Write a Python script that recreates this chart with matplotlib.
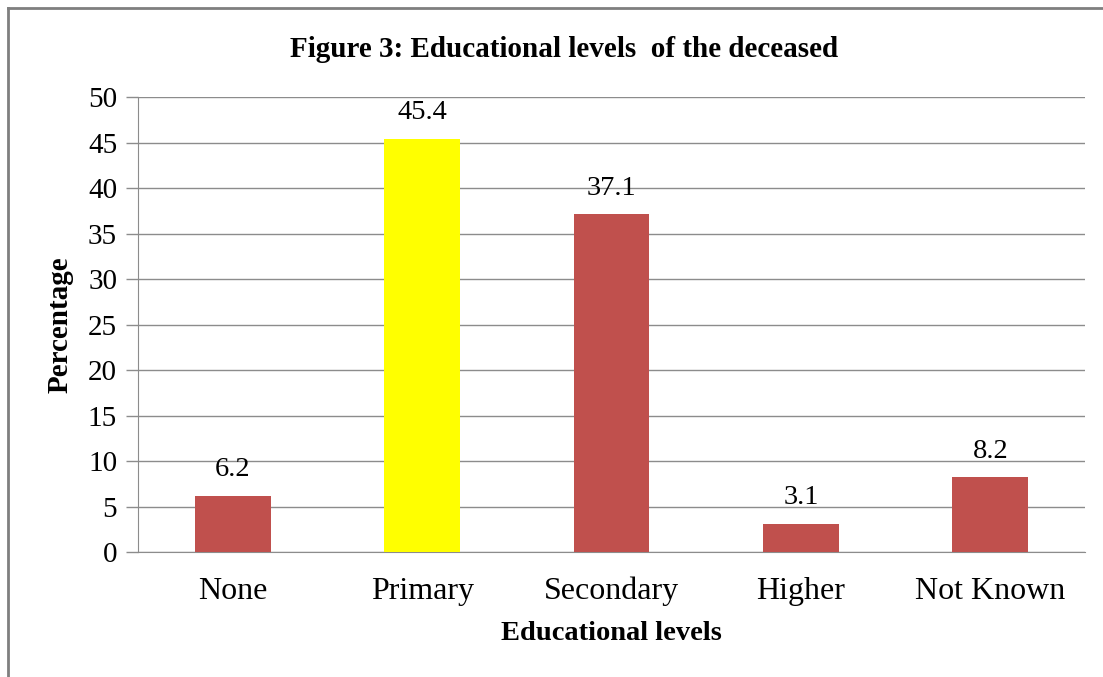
import matplotlib.pyplot as plt
from matplotlib.lines import Line2D

plt.rcParams['font.family'] = ['Liberation Serif', 'DejaVu Serif']

categories = ["None", "Primary", "Secondary", "Higher", "Not Known"]
values = [6.2, 45.4, 37.1, 3.1, 8.2]
colors = ["#C0504D", "#FFFF00", "#C0504D", "#C0504D", "#C0504D"]
yticks = [0, 5, 10, 15, 20, 25, 30, 35, 40, 45, 50]

fig = plt.figure(figsize=(11.03, 6.77), dpi=100)
ax = fig.add_axes([0.1251, 0.1846, 0.8586, 0.6721])

x = range(len(categories))
bars = ax.bar(x, values, width=0.4, color=colors, zorder=3)

for b, v in zip(bars, values):
    ax.text(b.get_x() + b.get_width() / 2, v + 1.5, f"{v}",
            ha="center", va="bottom", fontsize=20.5)

ax.set_xlim(-0.5, len(categories) - 0.5)
ax.set_ylim(0, 50)
ax.set_yticks(yticks)
ax.set_xticks(list(x))
ax.set_xticklabels(categories, fontsize=23, va="baseline")
ax.tick_params(axis="y", labelsize=21, length=9, color="#8c8c8c", width=1, pad=6)
ax.tick_params(axis="x", length=0, pad=34)
ax.grid(axis="y", color="#8c8c8c", linewidth=1, zorder=0)

for s in ["top", "right"]:
    ax.spines[s].set_visible(False)
ax.spines["left"].set_color("#8c8c8c")
ax.spines["bottom"].set_color("#8c8c8c")

ax.set_xlabel("Educational levels", fontsize=20.5, fontweight="bold", va="center")
ax.xaxis.set_label_coords(0.5, -0.178)
ax.set_ylabel("Percentage", fontsize=21, fontweight="bold", labelpad=10)
fig.text(0.511, 0.927, "Figure 3: Educational levels  of the deceased",
         ha="center", va="center", fontsize=21, fontweight="bold")

# chart border (only left and top edges visible in the original)
fig.add_artist(Line2D([0.0075, 0.0075], [0, 0.988], color="#7f7f7f", lw=2, transform=fig.transFigure))
fig.add_artist(Line2D([0.0075, 1.0], [0.988, 0.988], color="#7f7f7f", lw=2, transform=fig.transFigure))

fig.savefig("out.png", dpi=100)
